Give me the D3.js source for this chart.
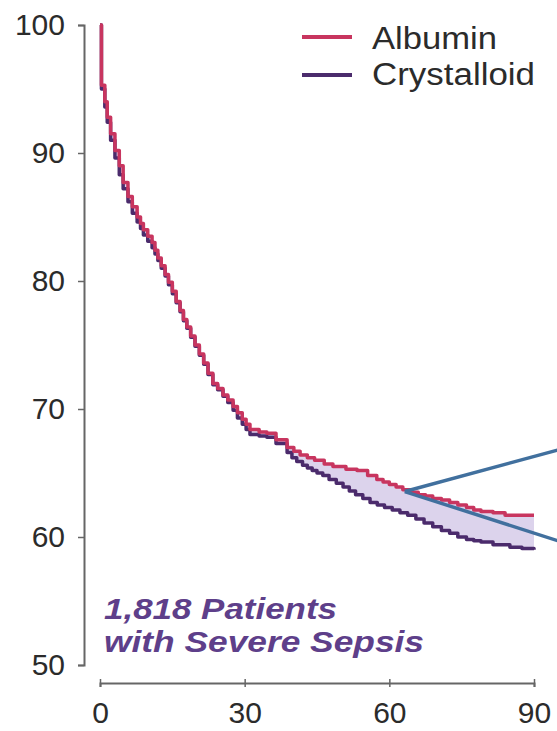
<!DOCTYPE html>
<html>
<head>
<meta charset="utf-8">
<script src="https://cdn.jsdelivr.net/npm/d3@7"></script>
<style>
  html, body { margin: 0; padding: 0; background: #ffffff; }
  svg { display: block; }
</style>
</head>
<body>
<svg id="chart" width="557" height="731"></svg>
<script>
// ---- Data ----
const seriesNames = ["Albumin", "Crystalloid"];

const albuminDays = [0, 0.3, 1.0, 1.5, 2.2, 3.1, 4.0, 4.8, 5.8, 6.7, 7.7, 8.4, 9.0, 9.9, 10.8, 11.4, 12.0, 12.7, 13.5, 14.2, 15.0, 15.8, 16.6, 17.3, 18.0, 18.8, 19.7, 20.6, 21.5, 22.4, 23.4, 24.4, 25.5, 26.5, 27.6, 28.5, 29.5, 30.3, 31.1, 33.0, 34.6, 36.5, 38.8, 40.2, 41.5, 43.0, 44.5, 46.5, 48.3, 51.0, 53.3, 55.5, 57.4, 58.7, 60.0, 61.4, 62.8, 64.4, 66.0, 67.5, 69.0, 70.8, 72.5, 74.2, 76.0, 77.5, 79.0, 81.5, 84.0, 90];
const albuminSurv = [100, 95.3, 94.0, 92.8, 91.5, 90.2, 89.0, 87.7, 86.6, 85.8, 85.0, 84.5, 84.0, 83.5, 83.0, 82.4, 81.8, 81.2, 80.5, 79.9, 79.2, 78.4, 77.7, 77.0, 76.4, 75.7, 75.0, 74.3, 73.6, 72.8, 72.0, 71.6, 71.1, 70.7, 70.2, 69.7, 69.2, 68.8, 68.4, 68.2, 68.1, 67.6, 67.0, 66.7, 66.4, 66.2, 66.0, 65.7, 65.5, 65.3, 65.2, 64.8, 64.5, 64.3, 64.1, 63.9, 63.7, 63.5, 63.3, 63.2, 63.0, 62.9, 62.7, 62.5, 62.3, 62.1, 62.0, 61.9, 61.7, 61.7];

const crystalloidDays = [0, 0.3, 1.0, 1.5, 2.2, 3.1, 4.0, 4.8, 5.8, 6.7, 7.7, 8.4, 9.0, 9.9, 10.8, 11.4, 12.0, 12.7, 13.5, 14.2, 15.0, 15.8, 16.6, 17.3, 18.0, 18.8, 19.7, 20.6, 21.5, 22.4, 23.4, 24.4, 25.5, 26.5, 27.6, 28.5, 29.5, 30.3, 31.1, 33.0, 34.6, 36.5, 38.8, 39.8, 40.8, 42.0, 43.0, 44.0, 45.0, 46.2, 47.5, 49.0, 50.4, 51.7, 53.0, 54.5, 56.0, 57.5, 59.0, 60.6, 62.2, 63.8, 65.5, 67.2, 69.0, 70.8, 72.5, 74.2, 76.0, 77.5, 79.0, 81.5, 85.0, 87.5, 90];
const crystalloidSurv = [100, 95.0, 93.6, 92.4, 91.0, 89.6, 88.3, 87.2, 86.2, 85.3, 84.6, 84.1, 83.6, 83.1, 82.6, 82.1, 81.6, 81.0, 80.4, 79.7, 79.0, 78.3, 77.6, 76.9, 76.3, 75.6, 74.9, 74.2, 73.5, 72.7, 71.9, 71.5, 71.0, 70.5, 69.9, 69.3, 68.8, 68.4, 68.0, 67.9, 67.8, 67.3, 66.6, 66.2, 65.9, 65.6, 65.4, 65.2, 65.0, 64.8, 64.5, 64.2, 63.9, 63.6, 63.3, 63.0, 62.7, 62.5, 62.3, 62.1, 61.9, 61.7, 61.4, 61.1, 60.8, 60.5, 60.3, 60.0, 59.8, 59.7, 59.6, 59.4, 59.2, 59.1, 59.0];

const xTicks = [0, 30, 60, 90];
const yTicks = [50, 60, 70, 80, 90, 100];
const noteLines = ["1,818 Patients", "with Severe Sepsis"];
// pointer annotation (apex and two ends), in data units
const pointerApex = [63.2, 63.55];
const pointerEnds = [[95, 66.8], [95, 59.7]];

// ---- Layout ----
const svg = d3.select("#chart");
const x = d3.scaleLinear().domain([0, 90]).range([100, 534]);
const y = d3.scaleLinear().domain([50, 100]).range([665, 25]);

const colAlb = "#c8355f";
const colCry = "#4b2b6c";
const font = "'Liberation Sans', Arial, Helvetica, sans-serif";

const alb = albuminDays.map((d, i) => [d, albuminSurv[i]]);
const cry = crystalloidDays.map((d, i) => [d, crystalloidSurv[i]]);

// fill between the curves
const lineStep = d3.line().x(d => x(d[0])).y(d => y(d[1])).curve(d3.curveStepAfter);
const lineStepRev = d3.line().x(d => x(d[0])).y(d => y(d[1])).curve(d3.curveStepBefore);
const pA = lineStep(alb);
const pC = lineStepRev(cry.slice().reverse());
svg.append("path")
  .attr("d", pA + "L" + pC.slice(1) + "Z")
  .attr("fill", "#dcd3ec")
  .attr("stroke", "none");

// curves
svg.append("path").datum(cry)
  .attr("d", lineStep)
  .attr("fill", "none").attr("stroke", colCry).attr("stroke-width", 3.5)
  .attr("stroke-linejoin", "round");
svg.append("path").datum(alb)
  .attr("d", lineStep)
  .attr("fill", "none").attr("stroke", colAlb).attr("stroke-width", 3.5)
  .attr("stroke-linejoin", "round");

// axes
const yAxis = svg.append("g")
  .attr("transform", "translate(84,0)")
  .call(d3.axisLeft(y).tickValues(yTicks).tickSize(6).tickPadding(13).tickFormat(d3.format("d")));
const xAxis = svg.append("g")
  .attr("transform", "translate(0,683)")
  .call(d3.axisBottom(x).tickValues(xTicks).tickSize(4).tickPadding(15).tickFormat(d3.format("d")));
[yAxis, xAxis].forEach(g => {
  g.selectAll("path").attr("stroke", "#666").attr("stroke-width", 2);
  g.selectAll("line").attr("stroke", "#666").attr("stroke-width", 1.5);
  g.selectAll("text").attr("font-family", font).attr("font-size", 30).attr("fill", "#2b2b2b");
});
xAxis.selectAll(".tick line").attr("y1", -4);

// legend
const legend = svg.append("g");
const legendWidths = [125, 163];
[colAlb, colCry].forEach((c, i) => {
  legend.append("line")
    .attr("x1", 302).attr("x2", 352)
    .attr("y1", 37 + i * 38).attr("y2", 37 + i * 38)
    .attr("stroke", c).attr("stroke-width", 4);
  legend.append("text")
    .attr("x", 372).attr("y", 49 + i * 36)
    .attr("font-family", font).attr("font-size", 31)
    .attr("fill", "#2b2b2b")
    .attr("textLength", legendWidths[i]).attr("lengthAdjust", "spacingAndGlyphs")
    .text(seriesNames[i]);
});

// annotation text
const noteWidths = [233, 320];
noteLines.forEach((t, i) => {
  svg.append("text")
    .attr("x", 104).attr("y", 619 + i * 33)
    .attr("font-family", font).attr("font-size", 30)
    .attr("font-weight", "bold").attr("font-style", "italic")
    .attr("fill", "#5e3f8a")
    .attr("textLength", noteWidths[i]).attr("lengthAdjust", "spacingAndGlyphs")
    .text(t);
});

// pointer lines
pointerEnds.forEach(e => {
  svg.append("line")
    .attr("x1", x(pointerApex[0])).attr("y1", y(pointerApex[1]))
    .attr("x2", x(e[0])).attr("y2", y(e[1]))
    .attr("stroke", "#41709e").attr("stroke-width", 3.5);
});
</script>
</body>
</html>
